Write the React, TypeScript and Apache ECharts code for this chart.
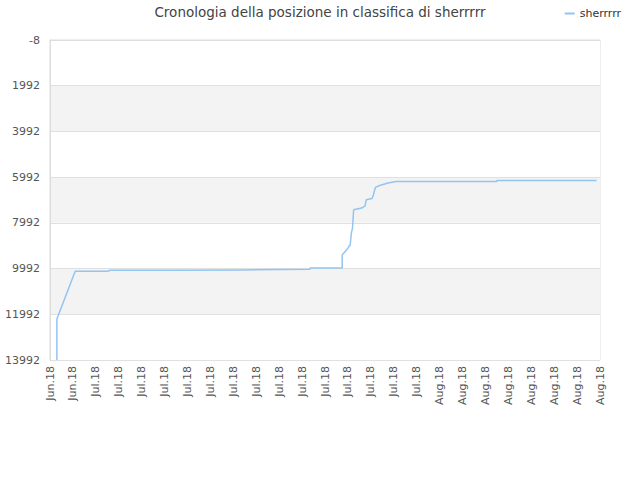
import React, { useEffect, useRef } from 'react';
import * as echarts from 'echarts';

const TITLE = 'Cronologia della posizione in classifica di sherrrrr';
const SERIES_NAME = 'sherrrrr';
const START_DATE = Date.UTC(2018, 5, 28);
const STEP_DAYS = 0.1;
const STEP_COUNT = 481;
const MONTH_LABELS = ['Jan.18', 'Feb.18', 'Mar.18', 'Apr.18', 'May.18', 'Jun.18', 'Jul.18', 'Aug.18', 'Sep.18', 'Oct.18', 'Nov.18', 'Dec.18'];
const Y_MIN = -8;
const Y_MAX = 13992;
const Y_INTERVAL = 2000;
const LABEL_EVERY = 20;

const POINT_STEP = [6, 6, 22, 51, 52, 110, 110, 168, 168, 227, 227, 255, 255, 260, 262, 263, 264, 265, 272, 275, 276, 281, 282, 284, 287, 295, 302, 390, 390, 477];
const RANKS = [13992, 12200, 10110, 10110, 10070, 10070, 10050, 10050, 10020, 10020, 9970, 9970, 9400, 9100, 8950, 8440, 8220, 7420, 7345, 7245, 6980, 6925, 6805, 6440, 6370, 6250, 6180, 6180, 6135, 6135];

const categories: string[] = [];
for (let i = 0; i < STEP_COUNT; i++) {
  const d = new Date(START_DATE + i * STEP_DAYS * 86400000);
  categories.push(MONTH_LABELS[d.getUTCMonth()]);
}

const seriesData = POINT_STEP.map((s, k) => [s, RANKS[k]]);

export default function App() {
  const ref = useRef<HTMLDivElement>(null);
  useEffect(() => {
    if (!ref.current) return;
    const chart = echarts.init(ref.current, undefined, { renderer: 'svg' });
    const font = 'DejaVu Sans';
    chart.setOption({
      animation: false,
      backgroundColor: '#ffffff',
      textStyle: { fontFamily: font },
      title: {
        text: TITLE,
        left: 'center',
        top: 0,
        textStyle: { fontFamily: font, fontSize: 13.5, fontWeight: 'normal', color: '#444' },
      },
      legend: {
        right: 14,
        top: 3,
        icon: 'rect',
        itemWidth: 10,
        itemHeight: 2,
        itemGap: 10,
        textStyle: { fontFamily: font, fontSize: 11, color: '#333' },
        data: [SERIES_NAME],
      },
      grid: { left: 50, right: 40, top: 40, bottom: 120, show: true, borderColor: '#dddddd', borderWidth: 1 },
      xAxis: {
        type: 'category',
        data: categories,
        boundaryGap: false,
        axisLine: { lineStyle: { color: '#dddddd' } },
        axisTick: { show: false },
        splitLine: { show: false },
        axisLabel: {
          interval: LABEL_EVERY - 1,
          rotate: 90,
          color: '#555',
          fontSize: 11,
          fontFamily: font,
          margin: 6,
        },
      },
      yAxis: {
        type: 'value',
        inverse: true,
        min: Y_MIN,
        max: Y_MAX,
        interval: Y_INTERVAL,
        axisLine: { show: true, lineStyle: { color: '#dddddd' } },
        axisTick: { show: false },
        axisLabel: {
          color: '#555',
          fontSize: 11,
          fontFamily: font,
          margin: 10,
          formatter: (v: number) => String(v),
        },
        splitLine: { show: true, lineStyle: { color: '#e0e0e0' } },
        splitArea: { show: true, areaStyle: { color: ['#ffffff', '#f3f3f3'] } },
      },
      series: [
        {
          name: SERIES_NAME,
          type: 'line',
          data: seriesData,
          showSymbol: false,
          symbol: 'none',
          lineStyle: { color: '#93c4f2', width: 1.5 },
          itemStyle: { color: '#93c4f2' },
        },
      ],
    });
    return () => chart.dispose();
  }, []);
  return <div ref={ref} style={{ position: 'absolute', left: 0, top: 0, width: 640, height: 480 }} />;
}
